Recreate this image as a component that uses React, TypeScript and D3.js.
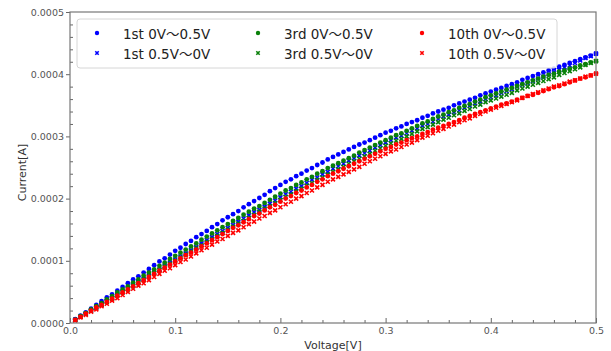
import React, { useEffect, useRef } from 'react';
import * as d3 from 'd3';

// sweep grid: 0.005 V steps from 0.005 V up to 0.5 V
const voltages = d3.range(1, 101).map(k => +(k * 0.005).toFixed(3));

// currents in µA, one value per voltage step
const first_up = [
  6, 12, 17, 23, 29, 35, 41, 46, 52, 58,
  64, 70, 75, 81, 87, 93, 99, 104, 110, 116,
  121, 127, 132, 138, 143, 148, 154, 159, 165, 170,
  175, 180, 186, 191, 196, 201, 206, 212, 217, 222,
  227, 231, 236, 240, 245, 249, 254, 258, 263, 267,
  271, 275, 279, 283, 287, 290, 294, 298, 302, 306,
  309, 313, 316, 320, 323, 326, 330, 333, 337, 340,
  343, 346, 350, 353, 356, 359, 362, 366, 369, 372,
  375, 378, 381, 384, 387, 391, 394, 397, 400, 403,
  406, 409, 412, 415, 418, 421, 424, 427, 430, 433,
];
const first_down = [
  5, 10, 15, 20, 25, 30, 35, 40, 45, 50,
  55, 60, 66, 71, 76, 81, 86, 92, 97, 102,
  107, 112, 117, 122, 128, 133, 138, 143, 148, 153,
  158, 163, 168, 173, 178, 182, 187, 192, 197, 202,
  207, 211, 216, 220, 225, 230, 234, 239, 243, 248,
  252, 256, 261, 265, 269, 273, 277, 282, 286, 290,
  294, 298, 301, 305, 309, 313, 317, 320, 324, 328,
  332, 335, 339, 342, 346, 349, 353, 356, 360, 363,
  366, 370, 373, 376, 380, 383, 386, 389, 393, 396,
  400, 403, 407, 411, 414, 418, 422, 426, 429, 433,
];
const third_up = [
  5, 11, 16, 22, 27, 32, 38, 43, 49, 54,
  59, 65, 70, 76, 81, 86, 92, 97, 103, 108,
  113, 118, 123, 128, 134, 139, 144, 149, 154, 159,
  164, 169, 174, 179, 184, 188, 193, 198, 203, 208,
  213, 217, 222, 226, 231, 235, 240, 244, 249, 253,
  257, 261, 265, 269, 274, 278, 282, 286, 290, 294,
  298, 302, 305, 309, 313, 317, 321, 324, 328, 332,
  335, 339, 342, 346, 349, 352, 356, 359, 363, 366,
  369, 372, 375, 378, 381, 384, 387, 390, 393, 396,
  399, 401, 404, 406, 409, 411, 414, 416, 419, 421,
];
const third_down = [
  5, 10, 15, 20, 25, 29, 34, 39, 44, 49,
  54, 59, 64, 69, 74, 80, 85, 90, 95, 100,
  105, 110, 115, 120, 125, 130, 135, 140, 145, 150,
  155, 160, 164, 169, 174, 179, 184, 188, 193, 198,
  203, 207, 212, 216, 221, 225, 230, 234, 239, 243,
  247, 251, 256, 260, 264, 268, 272, 277, 281, 285,
  289, 293, 296, 300, 304, 308, 312, 315, 319, 323,
  327, 330, 334, 337, 341, 344, 348, 351, 355, 358,
  361, 364, 367, 370, 374, 377, 380, 383, 386, 389,
  392, 395, 399, 402, 405, 408, 411, 415, 418, 421,
];
const tenth_up = [
  5, 10, 15, 20, 25, 29, 34, 39, 44, 49,
  54, 59, 64, 69, 74, 79, 84, 89, 94, 99,
  104, 109, 113, 118, 123, 128, 133, 138, 143, 148,
  153, 157, 162, 167, 172, 176, 181, 186, 190, 195,
  200, 204, 209, 213, 218, 222, 227, 231, 236, 240,
  244, 248, 252, 256, 260, 264, 268, 272, 276, 280,
  283, 287, 290, 294, 297, 300, 304, 307, 311, 314,
  317, 320, 323, 326, 330, 333, 336, 339, 342, 345,
  348, 351, 353, 356, 359, 362, 365, 367, 370, 373,
  376, 379, 381, 384, 387, 390, 393, 395, 398, 401,
];
const tenth_down = [
  4, 9, 13, 18, 22, 27, 31, 36, 40, 45,
  50, 55, 60, 64, 69, 74, 79, 84, 88, 93,
  98, 102, 107, 112, 117, 121, 126, 131, 135, 140,
  145, 149, 154, 159, 163, 168, 172, 177, 181, 186,
  191, 195, 200, 204, 209, 213, 218, 222, 227, 231,
  235, 239, 243, 247, 251, 256, 260, 264, 268, 272,
  276, 279, 283, 287, 290, 294, 298, 301, 305, 309,
  312, 316, 319, 323, 326, 329, 333, 336, 340, 343,
  346, 349, 352, 355, 358, 362, 365, 368, 371, 374,
  377, 380, 382, 385, 388, 390, 393, 396, 398, 401,
];

const seriesNames = [
  '1st 0V～0.5V', '1st 0.5V～0V',
  '3rd 0V～0.5V', '3rd 0.5V～0V',
  '10th 0V～0.5V', '10th 0.5V～0V',
];
const seriesValues = [first_up, first_down, third_up, third_down, tenth_up, tenth_down];
const seriesColors = ['#0000ff', '#0000ff', '#0a800a', '#0a800a', '#ff0000', '#ff0000'];
const seriesMarker = ['dot', 'cross', 'dot', 'cross', 'dot', 'cross'];

const xTicks = [0, 0.1, 0.2, 0.3, 0.4, 0.5];
const yTicks = [0, 100, 200, 300, 400, 500];

const WIDTH = 611;
const HEIGHT = 351;
const FONT = '"DejaVu Sans", Verdana, sans-serif';
const CJK = '"Noto Sans CJK JP", "Noto Sans CJK SC", sans-serif';

const App: React.FC = () => {
  const svgRef = useRef<SVGSVGElement>(null);

  useEffect(() => {
    if (!svgRef.current) return;
    const svg = d3.select(svgRef.current);
    svg.selectAll('*').remove();

    const left = 70, right = 596, top = 12, bottom = 323;

    const x = d3.scaleLinear().domain([0, 0.5]).range([left, right]);
    const y = d3.scaleLinear().domain([0, 500]).range([bottom, top]);

    const drawMarker = (g: any, kind: string, color: string, cx: number, cy: number, s: number) => {
      if (kind === 'dot') {
        g.append('circle').attr('cx', cx).attr('cy', cy).attr('r', s).attr('fill', color);
      } else {
        g.append('path')
          .attr('d', `M${cx - s},${cy - s}L${cx + s},${cy + s}M${cx - s},${cy + s}L${cx + s},${cy - s}`)
          .attr('stroke', color)
          .attr('stroke-width', 1.6)
          .attr('fill', 'none');
      }
    };

    // data points
    const pts = svg.append('g');
    seriesValues.forEach((vals, i) => {
      vals.forEach((v, k) => {
        drawMarker(pts, seriesMarker[i], seriesColors[i], x(voltages[k]), y(v), seriesMarker[i] === 'dot' ? 2.4 : 2);
      });
    });

    // minor ticks
    const minorX = d3.range(0, 0.5001, 0.02).filter(v => Math.abs(v * 10 - Math.round(v * 10)) > 1e-6);
    const minorY = d3.range(0, 501, 20).filter(v => v % 100 !== 0);

    svg.append('g')
      .attr('transform', `translate(0,${bottom})`)
      .call(d3.axisBottom(x).tickValues(minorX).tickSize(-3).tickFormat(() => ''))
      .call(g => g.select('.domain').remove())
      .selectAll('line').attr('stroke', '#666');

    svg.append('g')
      .attr('transform', `translate(${left},0)`)
      .call(d3.axisLeft(y).tickValues(minorY).tickSize(-3).tickFormat(() => ''))
      .call(g => g.select('.domain').remove())
      .selectAll('line').attr('stroke', '#666');

    // major ticks
    const xAxis = svg.append('g')
      .attr('transform', `translate(0,${bottom})`)
      .call(d3.axisBottom(x).tickValues(xTicks).tickSizeInner(-5).tickSizeOuter(0).tickPadding(4)
        .tickFormat(d => (+d).toFixed(1)));
    xAxis.select('.domain').remove();
    xAxis.selectAll('line').attr('stroke', '#666');
    xAxis.selectAll('text').attr('fill', '#555').style('font-family', FONT).style('font-size', '9.5px');

    const yAxis = svg.append('g')
      .attr('transform', `translate(${left},0)`)
      .call(d3.axisLeft(y).tickValues(yTicks).tickSizeInner(4).tickSizeOuter(0).tickPadding(2)
        .tickFormat(d => (+d / 1e6).toFixed(4)));
    yAxis.select('.domain').remove();
    yAxis.selectAll('line').attr('stroke', '#666');
    yAxis.selectAll('text').attr('fill', '#555').style('font-family', FONT).style('font-size', '9.5px');

    // frame
    svg.append('rect')
      .attr('x', left).attr('y', top)
      .attr('width', right - left).attr('height', bottom - top)
      .attr('fill', 'none').attr('stroke', '#777').attr('stroke-width', 1.2);

    // axis labels (x label is cut by the bottom edge, as in the original)
    svg.append('text')
      .attr('x', (left + right) / 2).attr('y', 349)
      .attr('text-anchor', 'middle')
      .style('font-family', FONT).style('font-size', '11px').attr('fill', '#333')
      .text('Voltage[V]');
    svg.append('text')
      .attr('transform', `translate(26,${(top + bottom) / 2 + 5}) rotate(-90)`)
      .attr('text-anchor', 'middle')
      .style('font-family', FONT).style('font-size', '11px').attr('fill', '#333')
      .text('Current[A]');

    // legend
    const legend = svg.append('g');
    legend.append('rect')
      .attr('x', 77).attr('y', 19).attr('width', 480).attr('height', 49).attr('rx', 3)
      .attr('fill', '#fff').attr('fill-opacity', 0.8)
      .attr('stroke', '#d6d6d6').attr('stroke-width', 1);
    const colMarkerX = [97, 258, 422];
    const rowY = [33, 53];
    seriesNames.forEach((name, i) => {
      const col = Math.floor(i / 2);
      const row = i % 2;
      drawMarker(legend, seriesMarker[i], seriesColors[i], colMarkerX[col], rowY[row], seriesMarker[i] === 'dot' ? 2.2 : 1.7);
      const [a, b] = name.split('～');
      const t = legend.append('text')
        .attr('x', colMarkerX[col] + 26).attr('y', rowY[row] + 5.5)
        .style('font-family', FONT).style('font-size', '13.5px').attr('fill', '#222');
      t.append('tspan').text(a);
      t.append('tspan').style('font-family', CJK).text('～');
      t.append('tspan').text(b);
    });
  }, []);

  return (
    <svg
      ref={svgRef}
      width={WIDTH}
      height={HEIGHT}
      style={{ position: 'absolute', left: 0, top: 0, background: '#fff' }}
    />
  );
};

export default App;
